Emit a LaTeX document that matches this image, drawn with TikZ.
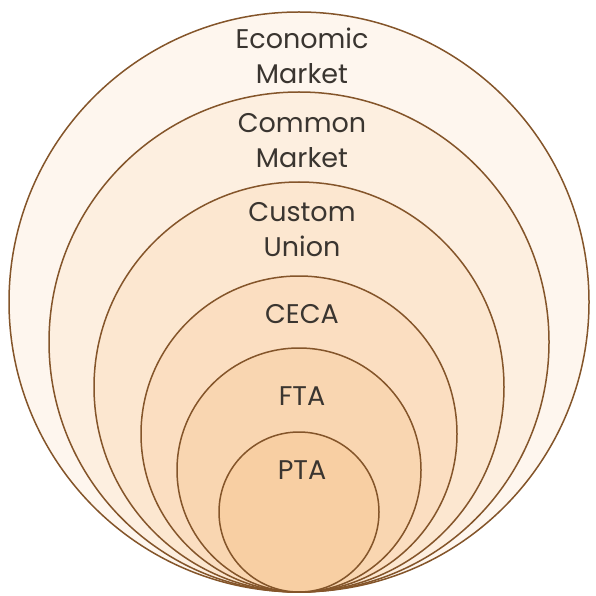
\documentclass[tikz,border=0pt]{standalone}
\usepackage{fontspec}
\setmainfont{Poppins}
\definecolor{peach}{HTML}{F8CC9E}
\definecolor{rim}{HTML}{84552A}
\definecolor{ink}{HTML}{3A3530}
\tikzset{
  ring/.style = {draw=rim, line width=1.5pt},
  tag/.style = {ink, align=center, font=\fontsize{27}{35}\selectfont}
}

\begin{document}
\begin{tikzpicture} [x = 1pt, y = 1pt]
\useasboundingbox (0, 0) rectangle (596, 595);
\draw[ring, fill=peach!18!white] (299, 293) circle (290);
\draw[ring, fill=peach!32!white] (299, 253) circle (250);
\draw[ring, fill=peach!48!white] (299, 208) circle (205);
\draw[ring, fill=peach!64!white] (299, 161) circle (158);
\draw[ring, fill=peach!80!white] (299, 125) circle (122);
\draw[ring, fill=peach!95!white] (299, 83) circle (80);
\node[tag] (econ) at (302, 539){Economic\\Market};
\node[tag] (common) at (302, 454){Common\\Market};
\node[tag] (custom) at (302, 365){Custom\\Union};
\node[tag] (ceca) at (302, 281){CECA};
\node[tag] (fta) at (302, 199){FTA};
\node[tag] (pta) at (302, 125){PTA};
\end{tikzpicture}
\end{document}
